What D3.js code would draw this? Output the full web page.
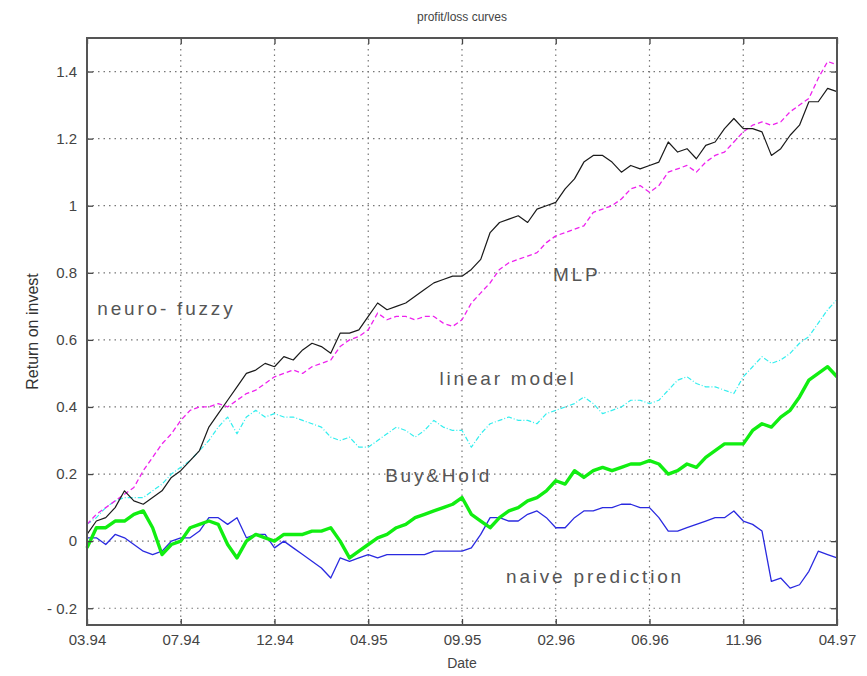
<!DOCTYPE html>
<html>
<head>
<meta charset="utf-8">
<script src="https://cdn.jsdelivr.net/npm/d3@7"></script>
<style>
  body { margin: 0; background: #fff; }
  svg text { font-family: "Liberation Sans Narrow", "Liberation Sans", Arial, sans-serif; }
</style>
</head>
<body>
<div id="cvs-container"><svg></svg></div>
<script>
// trading days 0..800, one value every 10 days
const step = 10;
const xTickDays = [0, 100, 200, 300, 400, 500, 600, 700, 800];
const xTickLabels = ["03.94", "07.94", "12.94", "04.95", "09.95", "02.96", "06.96", "11.96", "04.97"];
const yTicks = [-0.2, 0, 0.2, 0.4, 0.6, 0.8, 1, 1.2, 1.4];
const yTickLabels = ["- 0.2", "0", "0.2", "0.4", "0.6", "0.8", "1", "1.2", "1.4"];

const neuroFuzzy = [0.02,0.06,0.07,0.10,0.15,0.12,0.11,0.13,0.15,0.19,
  0.21,0.24,0.27,0.34,0.38,0.42,0.46,0.50,0.51,0.53,
  0.52,0.55,0.54,0.57,0.59,0.58,0.56,0.62,0.62,0.63,
  0.67,0.71,0.69,0.70,0.71,0.73,0.75,0.77,0.78,0.79,
  0.79,0.81,0.84,0.92,0.95,0.96,0.97,0.95,0.99,1.00,
  1.01,1.05,1.08,1.13,1.15,1.15,1.13,1.10,1.12,1.11,
  1.12,1.13,1.19,1.16,1.17,1.14,1.18,1.19,1.23,1.26,
  1.23,1.23,1.22,1.15,1.17,1.21,1.24,1.31,1.31,1.35,1.34];

const mlp = [0.05,0.08,0.10,0.12,0.14,0.16,0.21,0.25,0.29,0.32,
  0.36,0.39,0.40,0.40,0.41,0.40,0.42,0.44,0.45,0.47,
  0.49,0.50,0.51,0.50,0.52,0.53,0.54,0.58,0.60,0.61,
  0.63,0.68,0.66,0.67,0.67,0.66,0.67,0.67,0.65,0.64,
  0.66,0.71,0.74,0.77,0.81,0.83,0.84,0.85,0.86,0.89,
  0.91,0.92,0.93,0.94,0.98,0.99,1.00,1.02,1.05,1.06,
  1.04,1.06,1.10,1.11,1.12,1.10,1.13,1.15,1.16,1.19,
  1.22,1.24,1.25,1.24,1.25,1.28,1.30,1.32,1.38,1.43,1.42];

const linearModel = [0.05,0.07,0.10,0.12,0.13,0.13,0.13,0.15,0.17,0.20,
  0.22,0.24,0.27,0.30,0.34,0.37,0.32,0.37,0.39,0.37,
  0.38,0.37,0.37,0.36,0.35,0.34,0.31,0.30,0.31,0.28,
  0.28,0.30,0.32,0.34,0.33,0.31,0.33,0.36,0.34,0.33,
  0.33,0.28,0.32,0.35,0.36,0.37,0.36,0.36,0.35,0.38,
  0.39,0.40,0.41,0.43,0.41,0.38,0.39,0.40,0.42,0.42,
  0.41,0.42,0.45,0.48,0.49,0.47,0.46,0.46,0.45,0.44,
  0.49,0.52,0.55,0.53,0.54,0.56,0.59,0.61,0.65,0.69,0.72];

const buyHold = [-0.02,0.04,0.04,0.06,0.06,0.08,0.09,0.04,-0.04,-0.01,
  0.00,0.04,0.05,0.06,0.05,-0.01,-0.05,0.00,0.02,0.01,
  0.00,0.02,0.02,0.02,0.03,0.03,0.04,0.00,-0.05,-0.03,
  -0.01,0.01,0.02,0.04,0.05,0.07,0.08,0.09,0.10,0.11,
  0.13,0.08,0.06,0.04,0.07,0.09,0.10,0.12,0.13,0.15,
  0.18,0.17,0.21,0.19,0.21,0.22,0.21,0.22,0.23,0.23,
  0.24,0.23,0.20,0.21,0.23,0.22,0.25,0.27,0.29,0.29,
  0.29,0.33,0.35,0.34,0.37,0.39,0.43,0.48,0.50,0.52,0.49];

const naive = [0.01,0.01,-0.01,0.02,0.01,-0.01,-0.03,-0.04,-0.03,0.00,
  0.01,0.01,0.03,0.07,0.07,0.05,0.07,0.01,0.02,0.02,
  -0.02,0.00,-0.02,-0.04,-0.06,-0.08,-0.11,-0.05,-0.06,-0.05,
  -0.04,-0.05,-0.04,-0.04,-0.04,-0.04,-0.04,-0.03,-0.03,-0.03,
  -0.03,-0.02,0.02,0.07,0.07,0.06,0.06,0.08,0.09,0.07,
  0.04,0.04,0.07,0.09,0.09,0.10,0.10,0.11,0.11,0.10,
  0.10,0.07,0.03,0.03,0.04,0.05,0.06,0.07,0.07,0.09,
  0.06,0.05,0.03,-0.12,-0.11,-0.14,-0.13,-0.09,-0.03,-0.04,-0.05];

const series = [
  { values: linearModel, color: "#33eeee", width: 1.2, dash: "5,2,1,2" },
  { values: naive,       color: "#2a2ae0", width: 1.3, dash: null },
  { values: buyHold,     color: "#11ee11", width: 3.4, dash: null },
  { values: mlp,         color: "#ee22ee", width: 1.3, dash: "5,3" },
  { values: neuroFuzzy,  color: "#1a1a1a", width: 1.2, dash: null }
];

const labels = [
  { text: "neuro- fuzzy",    day: 11,  v: 0.69 },
  { text: "MLP",             day: 497, v: 0.79 },
  { text: "linear model",    day: 376, v: 0.48 },
  { text: "Buy&Hold",        day: 318, v: 0.19 },
  { text: "naive prediction", day: 447, v: -0.11 }
];

let width = 867, height = 676;
let mLeft = 87, mRight = 837, mTop = 38, mBottom = 625;

let svg = d3.select("svg")
  .attr("width", width)
  .attr("height", height);

let x = d3.scaleLinear().domain([0, 800]).range([mLeft, mRight]);
let y = d3.scaleLinear().domain([-0.25, 1.5]).range([mBottom, mTop]);

// grid
svg.append("g").selectAll("line").data(xTickDays.slice(1, -1)).join("line")
  .attr("x1", d => x(d)).attr("x2", d => x(d))
  .attr("y1", mTop).attr("y2", mBottom)
  .attr("stroke", "#777").attr("stroke-width", 1.2)
  .attr("stroke-dasharray", "1.5,4");

svg.append("g").selectAll("line").data(yTicks).join("line")
  .attr("x1", mLeft).attr("x2", mRight)
  .attr("y1", d => y(d)).attr("y2", d => y(d))
  .attr("stroke", "#777").attr("stroke-width", 1.2)
  .attr("stroke-dasharray", "1.5,4");

// curves
let line = d3.line()
  .x((d, i) => x(i * step))
  .y(d => y(d));

svg.append("g").selectAll("path").data(series).join("path")
  .attr("d", d => line(d.values))
  .attr("fill", "none")
  .attr("stroke", d => d.color)
  .attr("stroke-width", d => d.width)
  .attr("stroke-linejoin", "round")
  .attr("stroke-dasharray", d => d.dash);

// axes, matlab style ticks inside on all sides
let fmtX = (d, i) => xTickLabels[i];
let fmtY = (d, i) => yTickLabels[i];

let axB = svg.append("g").attr("transform", `translate(0,${mBottom})`)
  .call(d3.axisBottom(x).tickValues(xTickDays).tickFormat(fmtX).tickSizeInner(-6).tickSizeOuter(0).tickPadding(9));
let axT = svg.append("g").attr("transform", `translate(0,${mTop})`)
  .call(d3.axisTop(x).tickValues(xTickDays).tickFormat("").tickSizeInner(-6).tickSizeOuter(0));
let axL = svg.append("g").attr("transform", `translate(${mLeft},0)`)
  .call(d3.axisLeft(y).tickValues(yTicks).tickFormat(fmtY).tickSizeInner(-6).tickSizeOuter(0).tickPadding(10));
let axR = svg.append("g").attr("transform", `translate(${mRight},0)`)
  .call(d3.axisRight(y).tickValues(yTicks).tickFormat("").tickSizeInner(-6).tickSizeOuter(0));

[axB, axT, axL, axR].forEach(a => {
  a.select(".domain").remove();
  a.selectAll(".tick line").attr("stroke", "#444").attr("stroke-width", 1.3);
  a.selectAll("text").attr("fill", "#444").style("font-size", "15px");
});

// frame
svg.append("rect")
  .attr("x", mLeft).attr("y", mTop)
  .attr("width", mRight - mLeft).attr("height", mBottom - mTop)
  .attr("fill", "none").attr("stroke", "#555").attr("stroke-width", 2);

// curve names
svg.append("g").selectAll("text").data(labels).join("text")
  .attr("x", d => x(d.day)).attr("y", d => y(d.v))
  .attr("dominant-baseline", "middle")
  .attr("fill", "#555")
  .style("font-family", "'Liberation Sans', Arial, sans-serif")
  .style("font-size", "19px")
  .style("letter-spacing", "2.8px")
  .text(d => d.text);

// titles
svg.append("text")
  .attr("x", (mLeft + mRight) / 2).attr("y", 21)
  .attr("text-anchor", "middle").attr("fill", "#444")
  .style("font-size", "12px")
  .text("profit/loss curves");

svg.append("text")
  .attr("x", (mLeft + mRight) / 2).attr("y", 668)
  .attr("text-anchor", "middle").attr("fill", "#444")
  .style("font-size", "14px")
  .text("Date");

svg.append("text")
  .attr("transform", `translate(38,${(mTop + mBottom) / 2}) rotate(-90)`)
  .attr("text-anchor", "middle").attr("fill", "#333")
  .style("font-size", "16px")
  .text("Return on invest");
</script>
</body>
</html>
